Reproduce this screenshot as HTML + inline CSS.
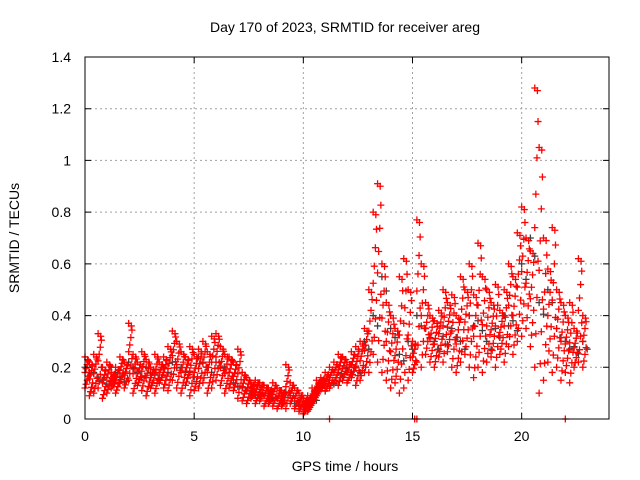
<!DOCTYPE html>
<html><head><meta charset="utf-8"><style>
body{margin:0;background:#fff}
svg{display:block;font-family:"Liberation Sans",sans-serif}
</style></head><body>
<svg id="c" width="640" height="480">
<text x="345" y="32" text-anchor="middle" font-size="14">Day 170 of 2023, SRMTID for receiver areg</text>
<text x="345" y="471" text-anchor="middle" font-size="14">GPS time / hours</text>
<text transform="translate(19,238) rotate(-90)" text-anchor="middle" font-size="14">SRMTID / TECUs</text>
<g id="grid"></g><g id="gray"></g><g id="red"></g><g id="axes"></g>
</svg>
<script>
const xTicks=[0,5,10,15,20];
const yTicks=[0,0.2,0.4,0.6,0.8,1,1.2,1.4];
const yTickLabels=["0","0.2","0.4","0.6","0.8","1","1.2","1.4"];
const redLow=[0.12,0.09,0.10,0.12,0.08,0.10,0.12,0.10,0.14,0.12,0.15,0.10,0.13,0.11,0.09,0.12,0.10,0.14,0.12,0.11,
0.15,0.12,0.10,0.13,0.09,0.11,0.12,0.14,0.10,0.12,0.15,0.13,0.10,0.12,0.11,0.08,0.07,0.06,0.08,0.06,
0.07,0.05,0.06,0.05,0.04,0.05,0.04,0.06,0.04,0.03,0.02,0.03,0.06,0.09,0.12,0.11,0.12,0.14,0.13,0.15,
0.14,0.16,0.13,0.15,0.18,0.18,0.25,0.22,0.18,0.15,0.12,0.14,0.10,0.12,0.15,0.18,0.22,0.20,0.25,0.22,
0.20,0.24,0.22,0.26,0.20,0.18,0.22,0.25,0.20,0.16,0.20,0.18,0.22,0.24,0.20,0.25,0.22,0.28,0.25,0.30,
0.32,0.35,0.28,0.20,0.10,0.15,0.22,0.18,0.20,0.15,0.18,0.14,0.20,0.22,0.20];
const redHigh=[0.24,0.22,0.25,0.33,0.20,0.22,0.18,0.20,0.24,0.22,0.37,0.25,0.22,0.26,0.23,0.20,0.25,0.22,0.24,0.28,
0.34,0.30,0.26,0.24,0.28,0.25,0.27,0.30,0.26,0.32,0.33,0.28,0.25,0.24,0.22,0.27,0.18,0.16,0.14,0.15,
0.14,0.13,0.12,0.14,0.12,0.11,0.21,0.14,0.12,0.10,0.08,0.09,0.12,0.15,0.16,0.18,0.20,0.22,0.25,0.24,
0.22,0.26,0.28,0.30,0.35,0.50,0.80,0.91,0.60,0.45,0.40,0.35,0.55,0.62,0.50,0.30,0.77,0.60,0.45,0.40,
0.38,0.42,0.50,0.45,0.48,0.40,0.55,0.50,0.60,0.48,0.68,0.55,0.50,0.45,0.52,0.42,0.50,0.60,0.55,0.72,
0.82,0.70,0.65,1.28,1.05,0.70,0.58,0.74,0.50,0.45,0.40,0.45,0.35,0.62,0.40];
const grayVals=[0.2,0.18,0.15,0.2,0.16,0.22,0.18,0.2,0.17,0.2,0.22,0.2,0.18,0.24,0.2,0.22,0.2,0.14,0.12,0.1,
0.1,0.09,0.08,0.1,0.06,0.05,0.08,0.12,0.15,0.18,0.2,0.2,0.3,0.4,0.55,0.35,0.25,0.3,0.4,0.35,
0.3,0.32,0.35,0.3,0.4,0.38,0.3,0.35,0.4,0.38,0.6,0.7,0.45,0.5,0.35,0.3,0.28,0.3];
const zeroTimes=[11.2,15.1,15.2,22.0];
const L=85,R=609,T=57,B=419;
const X=t=>L+(R-L)*t/24, Y=v=>B-(B-T)*v/1.4;
const NS="http://www.w3.org/2000/svg";
function mk(tag,attrs,parent){const e=document.createElementNS(NS,tag);for(const k in attrs)e.setAttribute(k,attrs[k]);parent.appendChild(e);return e;}
const grid=document.getElementById('grid'),axes=document.getElementById('axes');
xTicks.forEach((t,i)=>{
 if(t>0){const g=mk('line',{x1:X(t),x2:X(t),y1:T,y2:B,stroke:'#a0a0a0','stroke-dasharray':'2,3'},grid);
 
 }
 const tk=mk('path',{d:`M${X(t)},${B}v-6M${X(t)},${T}v6`,stroke:'#000'},axes);
 
 
 const lb=mk('text',{x:X(t),y:B+22,'text-anchor':'middle','font-size':14},axes);lb.textContent=String(t);
 
 
});
yTicks.forEach((v,i)=>{
 if(v>0&&v<1.4){const g=mk('line',{x1:L,x2:R,y1:Y(v),y2:Y(v),stroke:'#a0a0a0','stroke-dasharray':'2,3'},grid);
 
 }
 const tk=mk('path',{d:`M${L},${Y(v)}h6M${R},${Y(v)}h-6`,stroke:'#000'},axes);
 
 
 const lb=mk('text',{x:L-14,y:Y(v)+5,'text-anchor':'end','font-size':14},axes);lb.textContent=yTickLabels[i];
 
 
});
const fr=mk('rect',{x:L,y:T,width:R-L,height:B-T,fill:'none',stroke:'#000'},axes);


function plus(g,t,v,col,name){
 const p=mk('path',{d:`M${X(t)-3.5},${Y(v)}h7M${X(t)},${Y(v)-3.5}v7`,stroke:col,'stroke-width':1.3},g);
 
 
}
const gg=document.getElementById('gray'),rg=document.getElementById('red');
grayVals.forEach((v,i)=>{plus(gg,i*0.4,v,'#404040','gray-point');plus(gg,i*0.4+0.2,v*0.9,'#404040','gray-point');});
const fracs=[0,0.12,0.25,0.38,0.5,0.62,0.75,0.88,1];
redLow.forEach((v,i)=>{
 const h=redHigh[i],t=i*0.2;
 fracs.forEach((f,k)=>plus(rg,t+(k%4)*0.05,v+(h-v)*f,'#ff0000','red-point'));
 plus(rg,t+0.12,h-0.01,'#ff0000','red-point');
});
zeroTimes.forEach(t=>plus(rg,t,0,'#ff0000','red-zero-point'));
</script>
</body></html>
